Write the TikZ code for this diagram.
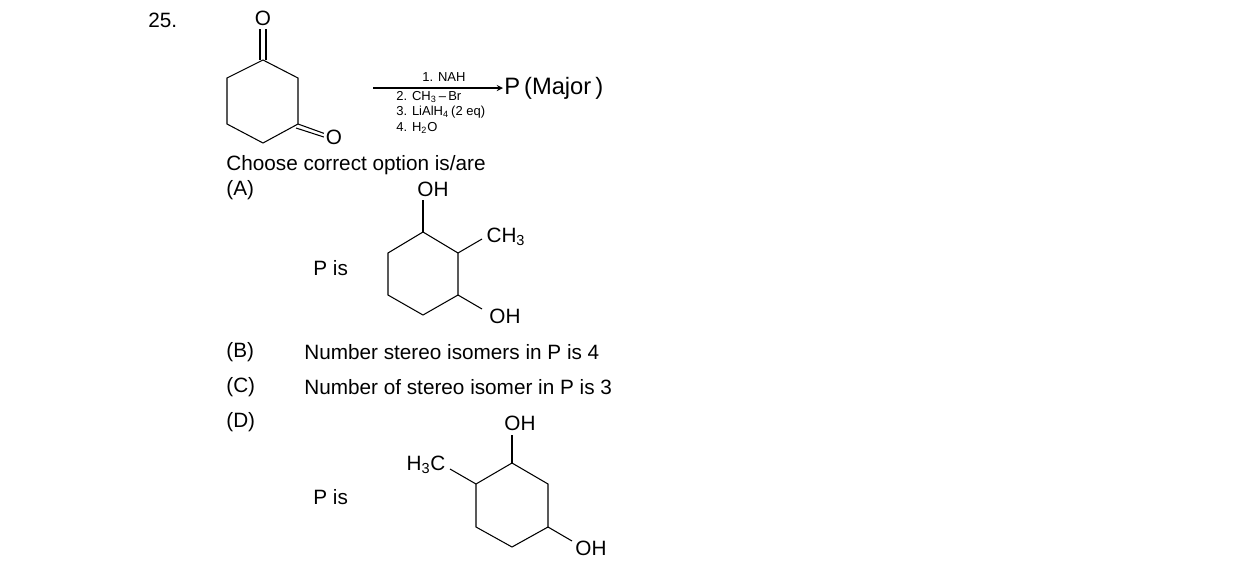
\documentclass[tikz,border=0pt]{standalone}
\usepackage{fontspec}
\setmainfont{Liberation Sans}
\usetikzlibrary{positioning}

\newcommand{\subsc}[1]{\textsubscript{#1}}

\tikzset{
  txt/.style = {inner sep=0pt, font=\fontsize{11.8}{13}\selectfont},
  atom/.style = {inner sep=1pt, font=\fontsize{11.8}{13}\selectfont},
  small/.style = {inner sep=0pt, font=\fontsize{7.4}{8}\selectfont, anchor=west},
  bond/.style = {line width=0.6pt}
}

\begin{document}
\begin{tikzpicture}[x=0.02cm, y=-0.02cm]
                \useasboundingbox (0,0) rectangle (1238,582);

                \node[txt, anchor=west] (num) at (148,20) {25.};

                % starting dione
                \draw[bond] (263,60) -- (298,78) -- (298,124) -- (263,143)
                -- (227,124) -- (227,78) -- cycle;
                \node[atom] (o1) at (263,18) {O};
                \draw[bond] (260,60) -- (260,29) (266,60) -- (266,29);
                \node[atom] (o2) at (334,137) {O};
                \draw[bond] (298,124) -- (o2);
                \draw[bond] (296,128) -- (o2.west);

                % reaction arrow
                \draw[bond, ->, >=stealth] (373,88) -- (503,88);
                \node[txt, anchor=west, font=\fontsize{13.5}{15}\selectfont] (prod) at (504,88) {P\,(Major\,)};
                \node[small, anchor=center] (r1) at (444,77) {1. NAH};
                \node[small] (r2) at (396,97) {2. CH\subsc{3}\,--\,Br};
                \node[small] (r3) at (396,112) {3. LiAlH\subsc{4}\,(2 eq)};
                \node[small] (r4) at (396,128) {4. H\subsc{2}O};

                \node[txt, anchor=west] (ask) at (226,165) {Choose correct option is/are};
                \node[txt, anchor=west] (optA) at (226,190) {(A)};

                % option A structure
                \node[txt, anchor=west] (pisA) at (313,268) {P is};
                \draw[bond] (423,232) -- (458,253) -- (458,295) -- (423,315)
                -- (388,295) -- (388,253) -- cycle;
                \node[atom] (ohA1) at (433,189) {OH};
                \draw[bond] (423,232) -- (423,200);
                \node[atom] (meA) at (506,237) {CH\subsc{3}};
                \draw[bond] (458,253) -- (482,239);
                \node[atom] (ohA2) at (505,316) {OH};
                \draw[bond] (458,295) -- (482,309);

                \node[txt, anchor=west] (optB) at (226,352) {(B)};
                \node[txt, anchor=west] (txtB) at (304,352) {Number stereo isomers in P is 4};
                \node[txt, anchor=west] (optC) at (226,387) {(C)};
                \node[txt, anchor=west] (txtC) at (304,387) {Number of stereo isomer in P is 3};
                \node[txt, anchor=west] (optD) at (226,422) {(D)};

                % option D structure
                \node[txt, anchor=west] (pisD) at (313,497) {P is};
                \draw[bond] (512,463) -- (548,484) -- (548,527) -- (512,547)
                -- (476,527) -- (476,484) -- cycle;
                \node[atom] (ohD1) at (520,423) {OH};
                \draw[bond] (512,463) -- (512,435);
                \node[atom] (meD) at (426,465) {H\subsc{3}C};
                \draw[bond] (476,484) -- (450,469);
                \node[atom] (ohD2) at (591,548) {OH};
                \draw[bond] (548,527) -- (572,541);
\end{tikzpicture}
\end{document}
